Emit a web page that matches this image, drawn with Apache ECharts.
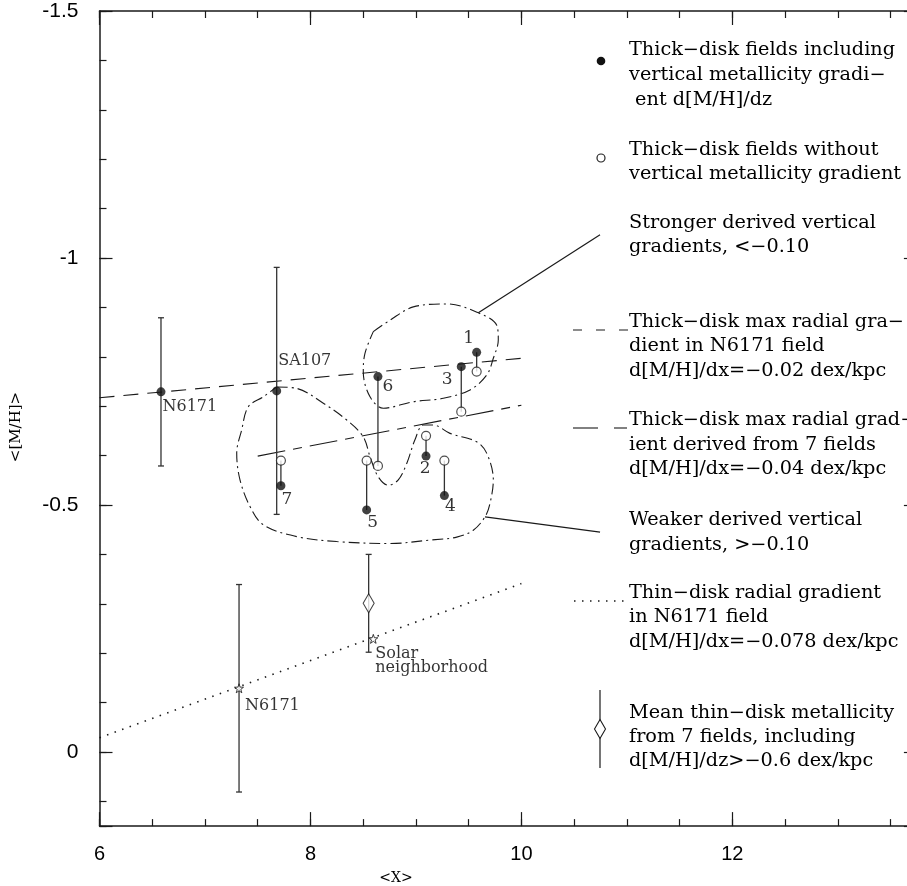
<!DOCTYPE html>
<html><head><meta charset="utf-8">
<script src="https://cdn.jsdelivr.net/npm/echarts@6/dist/echarts.min.js"></script>
<style>html,body{margin:0;padding:0;background:#fff}#c{width:907px;height:886px}</style>
</head><body><div id="c"></div>
<script>
// ---------- data ----------
const fieldNames      = ['1', '2', '3', '4', '5', '6', '7'];
const fieldX          = [9.576, 9.096, 9.43, 9.27, 8.533, 8.64, 7.72];
const fieldWithGrad   = [-0.809, -0.599, -0.780, -0.519, -0.490, -0.760, -0.539];
const fieldNoGrad     = [-0.770, -0.640, -0.689, -0.590, -0.590, -0.579, -0.590];

const thickRefNames   = ['N6171', 'SA107'];
const thickRefX       = [6.583, 7.68];
const thickRefY       = [-0.729, -0.731];
const thickRefErr     = [0.15, 0.25];

const thinRefNames    = ['N6171', 'Solar\nneighborhood'];
const thinRefX        = [7.323, 8.596];
const thinRefY        = [-0.129, -0.229];
const thinN6171Err    = 0.21;

const meanThinX       = [8.552];
const meanThinY       = [-0.301];
const meanThinErr     = [0.099];

const gradN6171X      = [6, 10];
const gradN6171Y      = [-0.717, -0.797];
const grad7FieldsX    = [7.5, 10];
const grad7FieldsY    = [-0.599, -0.702];
const thinGradX       = [6, 10];
const thinGradY       = [-0.029, -0.341];

const upperContourX = [8.596, 8.754, 8.975, 9.292, 9.592, 9.766, 9.781, 9.734, 9.671, 9.513, 9.260, 8.975, 8.691, 8.565, 8.501, 8.517];
const upperContourY = [-0.851, -0.874, -0.901, -0.907, -0.889, -0.864, -0.834, -0.797, -0.763, -0.733, -0.716, -0.709, -0.696, -0.719, -0.770, -0.807];
const lowerContourX = [7.680, 7.870, 8.122, 8.344, 8.501, 8.565, 8.643, 8.738, 8.833, 8.913, 8.991, 9.070, 9.165, 9.323, 9.576, 9.671, 9.734, 9.702, 9.655, 9.544, 9.387, 9.134, 8.754, 8.249, 7.870, 7.553, 7.427, 7.332, 7.301, 7.348, 7.411, 7.553];
const lowerContourY = [-0.739, -0.736, -0.706, -0.672, -0.638, -0.598, -0.557, -0.540, -0.551, -0.584, -0.632, -0.662, -0.662, -0.645, -0.628, -0.605, -0.551, -0.503, -0.476, -0.449, -0.435, -0.429, -0.422, -0.426, -0.436, -0.460, -0.497, -0.551, -0.605, -0.652, -0.699, -0.719];

const strongerPointerX = [9.592, 10.746];
const strongerPointerY = [-0.889, -1.047];
const weakerPointerX   = [9.655, 10.746];
const weakerPointerY   = [-0.476, -0.445];

const xTickLabels = ['6', '8', '10', '12'];
const yTickLabels = ['-1.5', '-1', '-0.5', '0'];

const legendLines = [
  'Thick\u2212disk fields including', 'vertical metallicity gradi\u2212', ' ent d[M/H]/dz',
  'Thick\u2212disk fields without', 'vertical metallicity gradient',
  'Stronger derived vertical', 'gradients, <\u22120.10',
  'Thick\u2212disk max radial gra\u2212', 'dient in N6171 field', 'd[M/H]/dx=\u22120.02 dex/kpc',
  'Thick\u2212disk max radial grad\u2212', 'ient derived from 7 fields', 'd[M/H]/dx=\u22120.04 dex/kpc',
  'Weaker derived vertical', 'gradients, >\u22120.10',
  'Thin\u2212disk radial gradient', 'in N6171 field', 'd[M/H]/dx=\u22120.078 dex/kpc',
  'Mean thin\u2212disk metallicity', 'from 7 fields, including', 'd[M/H]/dz>\u22120.6 dex/kpc'
];

// ---------- styling / layout (not data) ----------
const legendLineY = [50, 75, 100, 150, 174, 223, 247, 322, 346, 371, 420, 445, 469, 520, 545, 593, 617, 642, 713, 737, 761];
const fieldLabelOffsets = [[-8, -14], [-1, 12], [-14, 13], [6, 11], [6, 13], [10, 10], [6, 14]];
const INK = '#1a1a1a';
const TXT = '#000';
const SERIF = '"DejaVu Serif", "Liberation Serif", serif';
const SANS = '"Liberation Sans", Arial, sans-serif';

const zip = (xs, ys) => xs.map((x, i) => [x, ys[i]]);
const closed = (xs, ys) => { const p = zip(xs, ys); p.push(p[0]); return p; };

const chart = echarts.init(document.getElementById('c'), null, {renderer: 'canvas'});

const XMIN = 6, XMAX = 13.75, YMIN = -1.5, YMAX = 0.15;
const axisLineStyle = {color: INK, width: 1.5};
function xAx(pos, interval, len, labels, line) {
  return {
    type: 'value', position: pos, min: XMIN, max: XMAX, interval: interval,
    axisLine: {show: line, onZero: false, lineStyle: axisLineStyle},
    axisTick: {show: true, inside: true, length: len, lineStyle: {color: INK, width: 1.2}},
    axisLabel: labels ? {show: true, margin: 18, color: TXT, fontFamily: SANS, fontSize: 20,
      formatter: v => { const s = String(Math.round(v)); return (Math.abs(v - Math.round(v)) < 1e-6 && xTickLabels.includes(s)) ? s : ''; }} : {show: false},
    splitLine: {show: false}
  };
}
function yAx(pos, interval, len, labels, line) {
  return {
    type: 'value', position: pos, inverse: true, min: YMIN, max: YMAX, interval: interval,
    axisLine: {show: line, onZero: false, lineStyle: axisLineStyle},
    axisTick: {show: true, inside: true, length: len, lineStyle: {color: INK, width: 1.2}},
    axisLabel: labels ? {show: true, margin: 21, color: TXT, fontFamily: SANS, fontSize: 21,
      formatter: v => { const r = Math.round(v * 2) / 2; if (Math.abs(v - r) > 1e-6) return ''; const s = String(r); return yTickLabels.includes(s) ? s : ''; }} : {show: false},
    splitLine: {show: false}
  };
}

const errBarItem = (api, x, y, e, cap) => {
  const t = api.coord([x, y - e]), b = api.coord([x, y + e]);
  const st = {stroke: '#333', lineWidth: 1.3};
  return [
    {type: 'line', shape: {x1: t[0], y1: t[1], x2: b[0], y2: b[1]}, style: st},
    {type: 'line', shape: {x1: t[0] - cap, y1: t[1], x2: t[0] + cap, y2: t[1]}, style: st},
    {type: 'line', shape: {x1: b[0] - cap, y1: b[1], x2: b[0] + cap, y2: b[1]}, style: st}
  ];
};

const errData = thickRefX.map((x, i) => [x, thickRefY[i], thickRefErr[i]])
  .concat([[thinRefX[0], thinRefY[0], thinN6171Err]])
  .concat(meanThinX.map((x, i) => [x, meanThinY[i], meanThinErr[i]]));

const starPath = 'path://M0,-10 L2.35,-3.24 L9.51,-3.09 L3.8,1.24 L5.88,8.09 L0,4 L-5.88,8.09 L-3.8,1.24 L-9.51,-3.09 L-2.35,-3.24 Z';
const numLabel = {show: true, fontFamily: SERIF, fontSize: 17, color: TXT};

const option = {
  animation: false,
  backgroundColor: '#fff',
  grid: {left: 99.5, top: 11, width: (XMAX - XMIN) * 105.47, height: (YMAX - YMIN) * 494,
         containLabel: false, outerBoundsMode: 'none'},
  xAxis: [xAx('bottom', 2, 14, true, true), xAx('bottom', 0.5, 7, false, false), xAx('top', 2, 14, false, true), xAx('top', 0.5, 7, false, false)],
  yAxis: [yAx('left', 0.5, 13, true, true), yAx('left', 0.1, 7, false, false), yAx('right', 0.5, 13, false, true), yAx('right', 0.1, 7, false, false)],
  series: [
    {type: 'line', data: zip(gradN6171X, gradN6171Y), symbol: 'none', silent: true,
     lineStyle: {color: INK, width: 1.1, type: [15, 9]}, z: 2},
    {type: 'line', data: zip(grad7FieldsX, grad7FieldsY), symbol: 'none', silent: true,
     lineStyle: {color: INK, width: 1.1, type: [28, 8, 9, 8]}, z: 2},
    {type: 'line', data: zip(thinGradX, thinGradY), symbol: 'none', silent: true,
     lineStyle: {color: INK, width: 1.6, type: [1.5, 6.5]}, z: 2},
    {type: 'line', data: closed(upperContourX, upperContourY), symbol: 'none', smooth: 0.35, silent: true,
     lineStyle: {color: INK, width: 1.1, type: [11, 4, 2, 4]}, z: 2},
    {type: 'line', data: closed(lowerContourX, lowerContourY), symbol: 'none', smooth: 0.35, silent: true,
     lineStyle: {color: INK, width: 1.1, type: [11, 4, 2, 4]}, z: 2},
    {type: 'line', data: zip(strongerPointerX, strongerPointerY), symbol: 'none', silent: true,
     lineStyle: {color: INK, width: 1.2}, z: 2},
    {type: 'line', data: zip(weakerPointerX, weakerPointerY), symbol: 'none', silent: true,
     lineStyle: {color: INK, width: 1.2}, z: 2},
    {type: 'custom', data: errData, encode: {x: 0, y: 1}, silent: true, z: 3,
     renderItem: (p, api) => ({type: 'group', children: errBarItem(api, api.value(0), api.value(1), api.value(2), 3)})},
    {type: 'custom', data: fieldX.map((x, i) => [x, fieldWithGrad[i], fieldNoGrad[i]]), encode: {x: 0, y: 1}, silent: true, z: 3,
     renderItem: (p, api) => {
       const a = api.coord([api.value(0), api.value(1)]), b = api.coord([api.value(0), api.value(2)]);
       return {type: 'line', shape: {x1: a[0], y1: a[1], x2: b[0], y2: b[1]}, style: {stroke: '#333', lineWidth: 1.3}};
     }},
    {type: 'scatter', symbol: 'circle', symbolSize: 9, z: 5,
     itemStyle: {color: '#111'},
     data: fieldX.map((x, i) => ({value: [x, fieldWithGrad[i]], name: fieldNames[i],
       label: Object.assign({}, numLabel, {formatter: fieldNames[i], offset: fieldLabelOffsets[i], position: 'inside'})}))},
    {type: 'scatter', symbol: 'circle', symbolSize: 9, z: 5,
     itemStyle: {color: '#fff', borderColor: '#222', borderWidth: 1.2},
     data: zip(fieldX, fieldNoGrad)},
    {type: 'scatter', symbol: 'circle', symbolSize: 9, z: 5,
     itemStyle: {color: '#111'},
     data: thickRefX.map((x, i) => ({value: [x, thickRefY[i]], name: thickRefNames[i],
       label: Object.assign({}, numLabel, {fontSize: 16, formatter: thickRefNames[i], position: 'right', align: 'left',
         offset: i === 0 ? [-8, 15] : [-8, -30]})}))},
    {type: 'scatter', symbol: starPath, symbolSize: 9, z: 5,
     itemStyle: {color: '#fff', borderColor: '#111', borderWidth: 1},
     data: thinRefX.map((x, i) => ({value: [x, thinRefY[i]], name: thinRefNames[i],
       label: Object.assign({}, numLabel, {fontSize: 16, lineHeight: 14, formatter: thinRefNames[i], position: 'right', align: 'left',
         verticalAlign: 'top', offset: i === 0 ? [-4, 11] : [-8, 8]})}))},
    {type: 'scatter', symbol: 'diamond', symbolSize: [11, 19], z: 6,
     itemStyle: {color: '#fff', borderColor: '#111', borderWidth: 1.1},
     data: zip(meanThinX, meanThinY)}
  ],
  graphic: {elements: []}
};

// legend (annotation block on the right)
const G = option.graphic.elements;
legendLines.forEach((t, i) => {
  G.push({type: 'text', x: 629, y: legendLineY[i], scaleX: 1.07, silent: true,
    style: {text: t, font: '18px ' + SERIF, fill: TXT, textAlign: 'left', textVerticalAlign: 'middle', align: 'left', verticalAlign: 'middle'}});
});
G.push({type: 'circle', shape: {cx: 601, cy: 61, r: 4.3}, style: {fill: '#111'}, silent: true});
G.push({type: 'circle', shape: {cx: 601, cy: 158, r: 4}, style: {fill: '#fff', stroke: '#222', lineWidth: 1.2}, silent: true});
G.push({type: 'line', shape: {x1: 573, y1: 330, x2: 628, y2: 330}, style: {stroke: INK, lineWidth: 1.1, lineDash: [9, 14]}, silent: true});
G.push({type: 'polyline', shape: {points: [[573, 428], [598, 428]]}, style: {stroke: INK, lineWidth: 1.1}, silent: true});
G.push({type: 'polyline', shape: {points: [[614, 428], [627, 428]]}, style: {stroke: INK, lineWidth: 1.1}, silent: true});
G.push({type: 'line', shape: {x1: 574, y1: 601, x2: 628, y2: 601}, style: {stroke: INK, lineWidth: 1.5, lineDash: [1.5, 6.5]}, silent: true});
G.push({type: 'line', shape: {x1: 600, y1: 690, x2: 600, y2: 768}, style: {stroke: INK, lineWidth: 1.2}, silent: true});
G.push({type: 'polygon', shape: {points: [[600, 719.5], [605.5, 729], [600, 738.5], [594.5, 729]]}, style: {fill: '#fff', stroke: INK, lineWidth: 1.1}, silent: true});
// axis titles
G.push({type: 'text', x: 396, y: 878, silent: true,
  style: {text: '<X>', font: '14px ' + SERIF, fill: TXT, textAlign: 'center', textVerticalAlign: 'middle', align: 'center', verticalAlign: 'middle'}});
G.push({type: 'text', x: 16, y: 427, rotation: Math.PI / 2, silent: true,
  style: {text: '<[M/H]>', font: '15px ' + SERIF, fill: TXT, textAlign: 'center', textVerticalAlign: 'middle', align: 'center', verticalAlign: 'middle'}});

chart.setOption(option);
</script></body></html>
